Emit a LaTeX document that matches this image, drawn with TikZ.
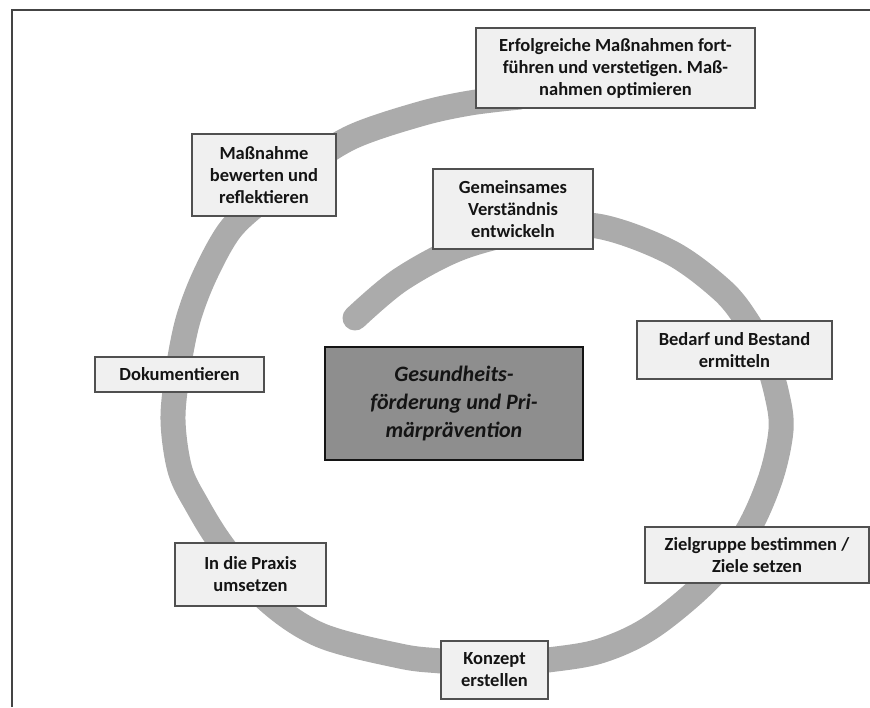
\documentclass[tikz,border=0pt]{standalone}
\usepackage{fontspec}
\setmainfont{Carlito}
\usetikzlibrary{shadows}
\frenchspacing
\definecolor{framecol}{HTML}{444444}
\definecolor{brush}{HTML}{ABABAB}
\definecolor{boxfill}{HTML}{F0F0F0}
\definecolor{boxline}{HTML}{505050}
\definecolor{textcol}{HTML}{141414}
\definecolor{corefill}{HTML}{8E8E8E}
\begin{document}
\begin{tikzpicture}[x=1pt,y=-1pt,
  box/.style={draw=boxline, fill=boxfill, line width=1.1pt, text=textcol,
    font=\fontsize{18.5}{22}\selectfont\bfseries, align=center, inner sep=0pt,
    drop shadow={shadow xshift=1.2pt, shadow yshift=-1.2pt, opacity=0.35}},
  core/.style={draw=textcol, fill=corefill, line width=1.2pt, text=textcol,
    font=\fontsize{22}{28.3}\selectfont\bfseries\itshape, align=center, inner sep=0pt},
  spiral/.style={draw=brush, line width=25pt, line cap=round, line join=round}]
\useasboundingbox (0,0) rectangle (870,707);
% frame
\coordinate (fbl) at (12,707);
\coordinate (ftl) at (12,10);
\coordinate (ftr) at (870,10);
\draw[framecol, line width=2.5pt] (fbl) -- (ftl) -- (ftr);
% spiral brush stroke
\draw[spiral] plot[smooth, tension=0.55] coordinates {
 (520,97) (470,103) (420,114) (352,137) (300,170) (262,200) (230,230)
 (205,275) (188,320) (178,370) (173,420) (180,470) (197,505) (222,545)
 (265,598) (320,635) (400,656) (441,661) (495,665) (548,660) (600,651)
 (650,628) (705,583) (745,535) (770,480) (781,430) (777,395) (765,355)
 (747,321) (722,290) (670,252) (597,226) (530,230) (460,248) (400,280) (355,318)};
% boxes
\node[box, minimum width=279pt, minimum height=80pt] (erf) at (615.5,68)
  {Erfolgreiche Maßnahmen fort-\\führen und verstetigen. Maß-\\nahmen optimieren};
\node[box, minimum width=144pt, minimum height=82pt] (mass) at (264,175)
  {Maßnahme\\bewerten und\\reflektieren};
\node[box, minimum width=160pt, minimum height=80pt] (gem) at (513,209)
  {Gemeinsames\\Verständnis\\entwickeln};
\node[core, minimum width=258pt, minimum height=113pt] (core) at (454,403.5)
  {Gesundheits-\\förderung und Pri-\\märprävention};
\node[box, minimum width=195pt, minimum height=58pt] (bed) at (734.5,350)
  {Bedarf und Bestand\\ermitteln};
\node[box, minimum width=169pt, minimum height=35pt] (dok) at (179.5,374.5)
  {Dokumentieren};
\node[box, minimum width=151pt, minimum height=63pt] (prax) at (250.5,574.5)
  {In die Praxis\\umsetzen};
\node[box, minimum width=224pt, minimum height=56pt] (ziel) at (757,555)
  {Zielgruppe bestimmen /\\Ziele setzen};
\node[box, minimum width=107pt, minimum height=58pt] (konz) at (494.5,670)
  {Konzept\\erstellen};
\end{tikzpicture}
\end{document}
